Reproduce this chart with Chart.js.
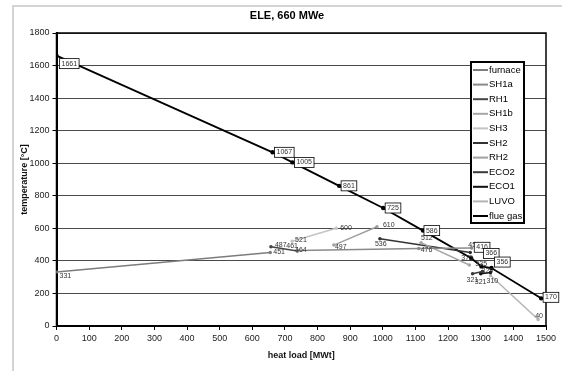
<!DOCTYPE html>
<html>
<head>
<meta charset="UTF-8">
<title>ELE, 660 MWe</title>
<script src="https://cdn.jsdelivr.net/npm/chart.js"></script>
<style>
  html, body { margin: 0; padding: 0; background: #fff; }
  #wrap { width: 562px; height: 371px; }
</style>
</head>
<body>
<div id="wrap"><canvas id="qt" width="562" height="371"></canvas></div>
<script>
// heat load [MWt] / temperature [°C] of each series
const furnaceQ = [0, 655];           const furnaceT = [331, 451];
const sh1aQ    = [740, 1110, 1272];  const sh1aT    = [464, 476, 479];
const rh1Q     = [657, 738];         const rh1T     = [487, 461];
const sh1bQ    = [1117, 1265];       const sh1bT    = [512, 375];
const sh3Q     = [722, 857];         const sh3T     = [521, 600];
const sh2Q     = [991, 1268];        const sh2T     = [536, 451];
const rh2Q     = [850, 982];         const rh2T     = [497, 610];
const eco2Q    = [1275, 1305];       const eco2T    = [321, 335];
const eco1Q    = [1300, 1330];       const eco1T    = [321, 329];
const luvoQ    = [1330, 1476];       const luvoT    = [310, 40];
const flueQ    = [0, 662, 723, 866, 1001, 1123, 1271, 1302, 1333, 1485];
const flueT    = [1661, 1067, 1005, 861, 725, 586, 416, 366, 356, 170];

const pts = (q, t) => q.map((v, i) => ({ x: v, y: t[i] }));

// dataset helper
function series(label, q, t, color, offsets, extra) {
    return Object.assign({
        label: label,
        data: pts(q, t),
        showLine: true,
        borderColor: color,
        backgroundColor: color,
        borderWidth: 1.5,
        pointRadius: 1,
        pointHoverRadius: 1,
        labelOffsets: offsets
    }, extra || {});
}

const datasets = [
    series('furnace', furnaceQ, furnaceT, '#7c7c7c', [[3, 4], [3, -1]]),
    series('SH1a', sh1aQ, sh1aT, '#8a8a8a', [[-3, 0], [2, 2], null]),
    series('RH1', rh1Q, rh1T, '#454545', [[4, -2], [-11, -5]]),
    series('SH1b', sh1bQ, sh1bT, '#a6a6a6', [[0, -5], [-8, -7]]),
    series('SH3', sh3Q, sh3T, '#c4c4c4', [[3, -1], [4, 0]]),
    series('SH2', sh2Q, sh2T, '#333333', [[-5, 5], [-2, -8]]),
    series('RH2', rh2Q, rh2T, '#a0a0a0', [[1, 2], [6, -2]]),
    series('ECO2', eco2Q, eco2T, '#3a3a3a', [[-6, 6], [-7, -7]]),
    series('ECO1', eco1Q, eco1T, '#111111', [[-6, 8], [-9, -1]]),
    series('LUVO', luvoQ, luvoT, '#b4b4b4', [[-4, 6], [-3, -3]]),
    series('flue gas', flueQ, flueT, '#000000',
        [[5, 8], [4, 0], [4, 0], [4, 0], [4, 0], [3, 0], [5, -11], [4, -13], [5, -6], [4, -1]],
        { borderWidth: 1.8, pointRadius: 1.3, labelBox: true })
];

// light grey outer frame + black frame around the plot
const frames = {
    id: 'frames',
    beforeDraw(chart) {
        const ctx = chart.ctx;
        ctx.save();
        ctx.strokeStyle = '#d4d4d4';
        ctx.lineWidth = 2;
        ctx.strokeRect(13, 6, 700, 500);
        ctx.restore();
    },
    beforeDatasetsDraw(chart) {
        const a = chart.chartArea, ctx = chart.ctx;
        ctx.save();
        ctx.strokeStyle = '#000';
        ctx.lineWidth = 1.5;
        ctx.strokeRect(a.left, a.top, a.right - a.left, a.bottom - a.top);
        ctx.restore();
    }
};

// temperature labels next to the points
const pointLabels = {
    id: 'pointLabels',
    afterDatasetsDraw(chart) {
        const ctx = chart.ctx;
        chart.data.datasets.forEach((ds, i) => {
            const meta = chart.getDatasetMeta(i);
            const offs = ds.labelOffsets || [];
            meta.data.forEach((pt, j) => {
                const o = offs[j];
                if (!o) return;
                const text = String(ds.data[j].y);
                const x = pt.x + o[0], y = pt.y + o[1];
                ctx.save();
                ctx.font = '7px "Liberation Sans", Arial, sans-serif';
                ctx.textAlign = 'left';
                ctx.textBaseline = 'middle';
                if (ds.labelBox) {
                    const w = ctx.measureText(text).width;
                    ctx.fillStyle = '#fff';
                    ctx.fillRect(x - 2, y - 5, w + 4, 10);
                    ctx.strokeStyle = '#000';
                    ctx.lineWidth = 0.8;
                    ctx.strokeRect(x - 2, y - 5, w + 4, 10);
                }
                ctx.fillStyle = '#333';
                ctx.fillText(text, x, y);
                ctx.restore();
            });
        });
    }
};

// boxed legend inside the plot, and the title
const boxLegend = {
    id: 'boxLegend',
    afterDraw(chart) {
        const ctx = chart.ctx;
        const x0 = 471, y0 = 62, w = 53, h = 161, row = 14.6;
        ctx.save();
        ctx.fillStyle = '#fff';
        ctx.fillRect(x0, y0, w, h);
        ctx.strokeStyle = '#000';
        ctx.lineWidth = 2;
        ctx.strokeRect(x0, y0, w, h);
        ctx.font = '9.5px "Liberation Sans", Arial, sans-serif';
        ctx.textBaseline = 'middle';
        ctx.textAlign = 'left';
        chart.data.datasets.forEach((ds, i) => {
            const y = y0 + 8 + i * row;
            ctx.strokeStyle = ds.borderColor;
            ctx.lineWidth = 2;
            ctx.beginPath();
            ctx.moveTo(x0 + 2, y);
            ctx.lineTo(x0 + 17, y);
            ctx.stroke();
            ctx.fillStyle = '#000';
            ctx.fillText(ds.label, x0 + 18, y);
        });
        ctx.font = 'bold 11px "Liberation Sans", Arial, sans-serif';
        ctx.textAlign = 'center';
        ctx.fillText('ELE, 660 MWe', 287, 16);
        ctx.restore();
    }
};

const tickFont = { family: '"Liberation Sans", Arial, sans-serif', size: 9 };
const titleFont = { family: '"Liberation Sans", Arial, sans-serif', size: 9, weight: 'bold' };
const plain = v => String(v);

new Chart(document.getElementById('qt'), {
    type: 'scatter',
    data: { datasets: datasets },
    options: {
        responsive: false,
        animation: false,
        devicePixelRatio: 1,
        layout: { padding: { top: 33, right: 16, bottom: 0, left: 0 } },
        plugins: {
            legend: { display: false },
            tooltip: { enabled: false },
            title: { display: false }
        },
        scales: {
            x: {
                type: 'linear',
                min: 0, max: 1500,
                ticks: { stepSize: 100, font: tickFont, color: '#222', padding: 3, maxRotation: 0, callback: plain },
                grid: { drawOnChartArea: false, drawTicks: true, tickLength: 4, tickColor: '#000' },
                border: { display: true, color: '#000', width: 2 },
                title: { display: true, text: 'heat load [MWt]', font: titleFont, color: '#111', padding: { top: 0, bottom: 10 } },
                afterFit(scale) { scale.height = 45; }
            },
            y: {
                type: 'linear',
                min: 0, max: 1800,
                ticks: { stepSize: 200, font: tickFont, color: '#222', padding: 3, callback: plain },
                grid: { color: '#4a4a4a', lineWidth: 1, drawTicks: true, tickLength: 4, tickColor: '#000' },
                border: { display: true, color: '#000', width: 2 },
                title: { display: true, text: 'temperature [°C]', font: titleFont, color: '#111', padding: { top: 19, bottom: 0 } },
                afterFit(scale) { scale.width = 56.5; }
            }
        }
    },
    plugins: [frames, pointLabels, boxLegend]
});
</script>
</body>
</html>
